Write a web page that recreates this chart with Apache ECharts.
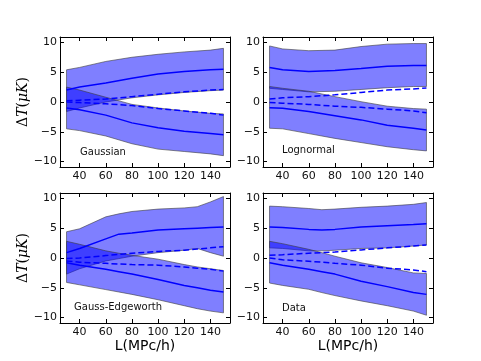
<!DOCTYPE html>
<html><head><meta charset="utf-8">
<script src="https://cdn.jsdelivr.net/npm/echarts@6/dist/echarts.min.js"></script>
<style>html,body{margin:0;padding:0;background:#fff}#c{width:481px;height:361px}</style>
</head><body><div id="c"></div>
<script>
// ---- data ----
const L_std = [30,40,60,80,100,120,140,150];
const L_ge = [30,40,60,70,80,100,120,130,140,150];
const L_data = [30,40,60,70,80,100,120,140,150];
const xTicks = [40,60,80,100,120,140];
const yTicks = [-10,-5,0,5,10];
const panelNames = ['Gaussian','Lognormal','Gauss-Edgeworth','Data'];

// Gaussian
const gUpTop = [5.4,5.8,6.8,7.5,8.0,8.4,8.7,9.0];
const gUpMid = [2.0,2.5,3.2,4.0,4.7,5.1,5.4,5.5];
const gUpBot = [-1.6,-1.0,0.0,0.7,1.2,1.6,1.9,2.0];
const gUpDash = [0.2,0.3,0.5,0.9,1.3,1.7,2.0,2.1];
const gLoTop = [2.5,2.0,0.8,-0.4,-1.0,-1.5,-1.9,-2.0];
const gLoDash = [0.0,-0.1,-0.3,-0.6,-1.1,-1.5,-1.9,-2.2];
const gLoMid = [-1.0,-1.3,-2.2,-3.5,-4.3,-4.9,-5.3,-5.5];
const gLoBot = [-4.5,-4.8,-5.7,-7.0,-7.9,-8.3,-8.7,-9.0];

// Lognormal
const lUpTop = [9.4,8.9,8.6,8.7,9.3,9.7,9.8,9.8];
const lUpMid = [5.8,5.4,5.1,5.3,5.6,6.0,6.1,6.1];
const lUpBot = [2.3,2.1,1.7,1.8,2.1,2.4,2.6,2.6];
const lUpDash = [0.5,0.7,0.9,1.2,1.6,2.0,2.2,2.35];
const lLoTop = [2.6,2.3,1.8,0.9,0.05,-0.7,-1.1,-1.2];
const lLoDash = [-0.1,-0.2,-0.4,-0.7,-0.9,-1.2,-1.5,-1.8];
const lLoMid = [-0.95,-1.05,-1.6,-2.3,-3.0,-3.9,-4.4,-4.7];
const lLoBot = [-4.4,-4.5,-5.3,-6.1,-6.8,-7.5,-8.0,-8.2];

// Gauss-Edgeworth
const geUpTop = [4.4,4.9,6.9,7.4,7.8,8.2,8.4,8.6,9.4,10.3];
const geUpMid = [0.9,1.6,3.2,4.0,4.2,4.7,4.9,5.0,5.1,5.2];
const geUpBot = [-2.7,-1.8,-0.5,-0.1,0.3,0.9,1.3,1.6,0.9,0.3];
const geUpDash = [-0.1,0.0,0.4,0.6,0.8,1.1,1.3,1.5,1.7,1.9];
const geLoTop = [2.8,2.3,1.2,0.8,0.45,-0.2,-1.1,-1.5,-1.8,-2.1];
const geLoDash = [-0.5,-0.7,-0.9,-1.0,-1.1,-1.2,-1.5,-1.7,-1.9,-2.2];
const geLoMid = [-0.8,-1.2,-1.9,-2.3,-2.7,-3.6,-4.6,-5.0,-5.4,-5.7];
const geLoBot = [-4.1,-4.5,-5.3,-5.7,-6.1,-7.0,-8.0,-8.5,-8.9,-9.2];

// Data
const dUpTop = [8.7,8.6,8.3,8.1,8.2,8.5,8.7,9.0,9.3];
const dUpMid = [5.2,5.1,4.8,4.7,4.8,5.2,5.4,5.6,5.75];
const dUpBot = [1.7,1.6,1.2,1.2,1.3,1.6,1.7,2.0,2.2];
const dUpDash = [0.45,0.55,0.8,0.9,1.0,1.35,1.7,2.0,2.2];
const dLoTop = [2.8,2.4,1.45,0.9,0.3,-0.8,-1.6,-2.5,-2.6];
const dLoDash = [0.0,-0.3,-0.55,-0.7,-0.9,-1.2,-1.7,-2.0,-2.3];
const dLoMid = [-0.8,-1.2,-1.9,-2.3,-2.7,-3.9,-4.8,-5.8,-6.1];
const dLoBot = [-4.2,-4.6,-5.25,-5.8,-6.3,-7.2,-8.0,-8.9,-9.6];

const panels = [
  {L:L_std, upTop:gUpTop, upMid:gUpMid, upBot:gUpBot, upDash:gUpDash, loTop:gLoTop, loDash:gLoDash, loMid:gLoMid, loBot:gLoBot},
  {L:L_std, upTop:lUpTop, upMid:lUpMid, upBot:lUpBot, upDash:lUpDash, loTop:lLoTop, loDash:lLoDash, loMid:lLoMid, loBot:lLoBot},
  {L:L_ge, upTop:geUpTop, upMid:geUpMid, upBot:geUpBot, upDash:geUpDash, loTop:geLoTop, loDash:geLoDash, loMid:geLoMid, loBot:geLoBot},
  {L:L_data, upTop:dUpTop, upMid:dUpMid, upBot:dUpBot, upDash:dUpDash, loTop:dLoTop, loDash:dLoDash, loMid:dLoMid, loBot:dLoBot}
];

// ---- layout ----
const gridPos = [
  {left:60, top:37}, {left:263, top:37},
  {left:60, top:193}, {left:263, top:193}
];
const GW = 170, GH = 130;
const FONT = 'DejaVu Sans';
const fmtMinus = v => (v < 0 ? '\u2212' + Math.abs(v) : String(v));

const grids = [], xAxes = [], yAxes = [], series = [], graphics = [];
const frameLine = {show:true, onZero:false, lineStyle:{color:'#000', width:1}};

panels.forEach((p, i) => {
  grids.push({left:gridPos[i].left, top:gridPos[i].top, width:GW, height:GH, containLabel:false});
  const bottomRow = i >= 2, leftCol = (i % 2 === 0);
  const xBase = {type:'value', gridIndex:i, min:25, max:155, splitLine:{show:false}, axisLine:frameLine};
  xAxes.push(Object.assign({}, xBase, {
    position:'bottom',
    axisTick:{inside:true, length:4, lineStyle:{color:'#000'}, customValues:xTicks},
    axisLabel:{customValues:xTicks, margin:4, fontFamily:FONT, fontSize:11, color:'#111'},
    name: bottomRow ? 'L(MPc/h)' : '',
    nameLocation:'middle', nameGap:14,
    nameTextStyle:{fontFamily:FONT, fontSize:14, color:'#000'}
  }));
  xAxes.push(Object.assign({}, xBase, {
    position:'top',
    axisTick:{inside:true, length:4, lineStyle:{color:'#000'}, customValues:xTicks},
    axisLabel:{show:false}
  }));
  const yBase = {type:'value', gridIndex:i, min:-10.9, max:10.9, splitLine:{show:false}, axisLine:frameLine};
  yAxes.push(Object.assign({}, yBase, {
    position:'left',
    axisTick:{inside:true, length:4, lineStyle:{color:'#000'}, customValues:yTicks},
    axisLabel:{customValues:yTicks, margin:3, fontFamily:FONT, fontSize:11, color:'#111', formatter:fmtMinus},
    name: leftCol ? '{n|\u0394}{i|T}{n|(}{i|\u03bcK}{n|)}' : '',
    nameLocation:'middle', nameGap:26, nameRotate:90,
    nameTextStyle:{fontSize:14, color:'#000',
      rich:{n:{fontFamily:'DejaVu Serif', fontSize:14, color:'#000'},
            i:{fontFamily:'DejaVu Serif', fontStyle:'italic', fontSize:14, color:'#000'}}}
  }));
  yAxes.push(Object.assign({}, yBase, {
    position:'right',
    axisTick:{inside:true, length:4, lineStyle:{color:'#000'}, customValues:yTicks},
    axisLabel:{show:false}
  }));

  const xi = 2*i, yi = 2*i;
  const pairs = arr => p.L.map((x, k) => [x, arr[k]]);
  const band = (bot, top) => {
    series.push({type:'custom', xAxisIndex:xi, yAxisIndex:yi,
      data: p.L.map((x, k) => [x, bot[k], top[k]]),
      encode:{x:0, y:[1,2]}, silent:true, animation:false, z:2, clip:true,
      renderItem: (params, api) => {
        if (params.dataIndex !== 0) return null;
        const up = p.L.map((x, k) => api.coord([x, top[k]]));
        const dn = p.L.map((x, k) => api.coord([x, bot[k]])).reverse();
        return {type:'polygon', shape:{points: up.concat(dn)},
          style:{fill:'rgba(0,0,255,0.5)', stroke:'rgba(60,60,60,0.6)', lineWidth:1}};
      }});
  };
  band(p.upBot, p.upTop);
  band(p.loBot, p.loTop);
  const line = (arr, dashed) => series.push({type:'line', xAxisIndex:xi, yAxisIndex:yi, data:pairs(arr),
    symbol:'none', smooth:false, z:3, silent:true, animation:false,
    lineStyle:{color:'#0000ff', width:1.5, type: dashed ? [6,3] : 'solid'}});
  line(p.upMid, false);
  line(p.loMid, false);
  line(p.upDash, true);
  line(p.loDash, true);
});

const labelPos = [[80,153],[282,151],[74,308],[282,309]];
panelNames.forEach((t, i) => {
  graphics.push({type:'text', left:labelPos[i][0], top:labelPos[i][1]-6,
    style:{text:t, fontFamily:FONT, fontSize:10, fill:'#111'}});
});

const chart = echarts.init(document.getElementById('c'), null, {renderer:'canvas'});
chart.setOption({
  animation:false,
  backgroundColor:'#fff',
  grid:grids, xAxis:xAxes, yAxis:yAxes, series:series, graphic:graphics
});
</script></body></html>
